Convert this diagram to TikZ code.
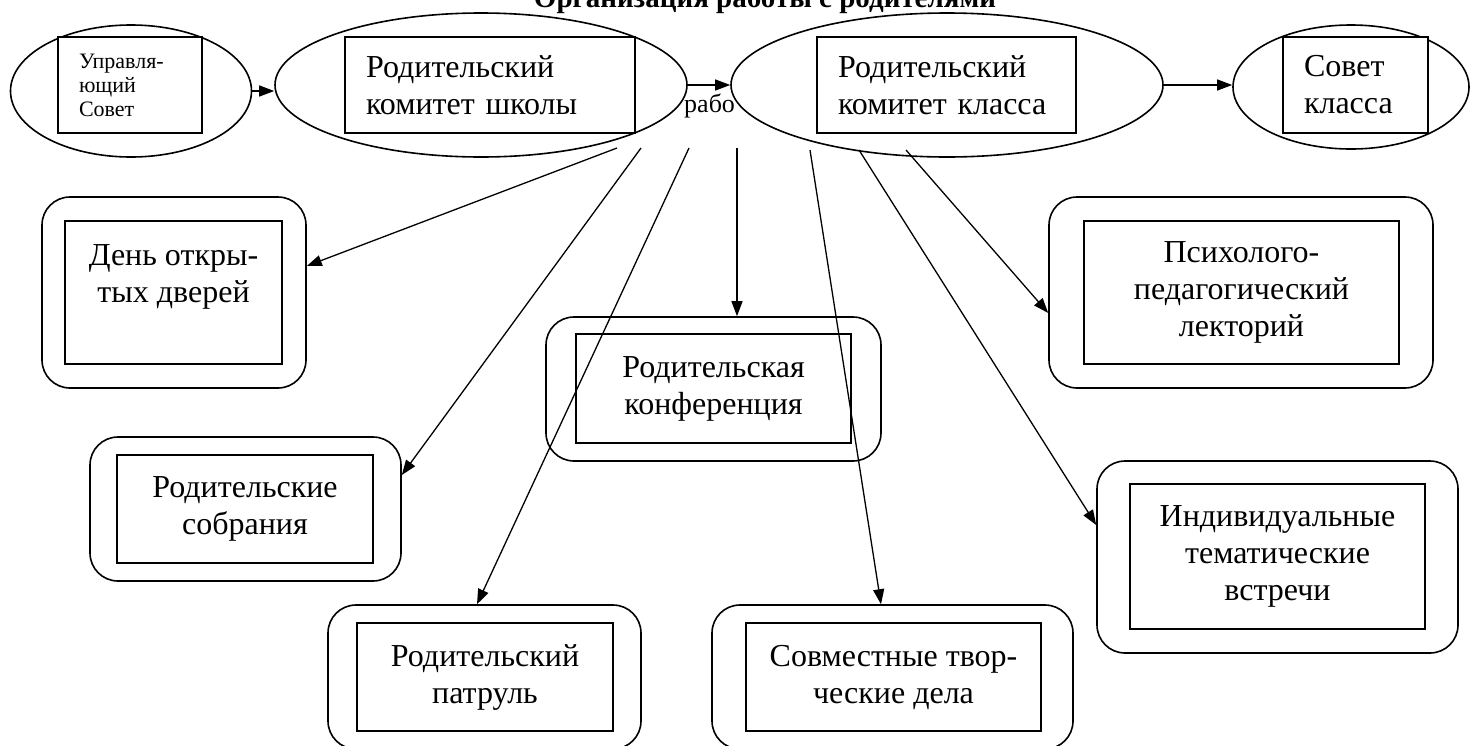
\documentclass[tikz,border=0pt]{standalone}
\usepackage{fontspec}
\setmainfont{Liberation Serif}
\usetikzlibrary{shapes.geometric,arrows.meta}
\tikzset{
  ell/.style={draw, ellipse, line width=1.6pt, fill=white, inner sep=0pt},
  topbox/.style={draw, rectangle, line width=1.6pt, fill=white, align=left, inner xsep=21pt, inner ysep=0pt, minimum height=96pt, font=\fontsize{32}{37}\selectfont},
  outerbox/.style={draw, rectangle, rounded corners=28pt, line width=1.6pt, inner sep=0pt},
  innerbox/.style={draw, rectangle, line width=1.6pt, align=center, inner sep=0pt, font=\fontsize{32}{37}\selectfont},
  conn/.style={line width=1.3pt, -{Triangle[length=15pt,width=11pt]}},
}
\begin{document}
\begin{tikzpicture}[x=1pt,y=-1pt]
\useasboundingbox (0,0) rectangle (1470,745);
% title
\node[anchor=base, font=\fontsize{29}{34}\selectfont\bfseries, inner sep=0pt] (title) at (765,7) {Организация работы с родителями};
% label under the second arrow
\node[anchor=west, inner sep=0pt, font=\fontsize{26}{30}\selectfont] (lab) at (684,106) {рабо};
% top ellipses
\node[ell, minimum width=241pt, minimum height=132pt] (E1) at (131,91) {};
\node[topbox, text width=102pt, font=\fontsize{22}{24}\selectfont] (T1) at (130,85) {Управля-\\ющий\\Совет};
\node[ell, minimum width=412pt, minimum height=144pt] (E2) at (481,85) {};
\node[topbox, text width=248pt] (T2) at (490,85) {Родительский\\комитет школы};
\node[ell, minimum width=432pt, minimum height=144pt] (E3) at (947,85) {};
\node[topbox, text width=217pt] (T3) at (946.5,85) {Родительский\\комитет класса};
\node[ell, minimum width=236pt, minimum height=124pt] (E4) at (1351,87) {};
\node[topbox, text width=103pt] (T4) at (1355.5,85) {Совет\\класса};
% top arrows
\draw[conn] (E1.east) -- (E1.east -| E2.west);
\draw[conn] (E2.east) -- (E3.west);
\draw[conn] (E3.east) -- (E3.east -| E4.west);
% lower boxes
\node[outerbox, minimum width=264pt, minimum height=191pt] (B1) at (174,292.5) {};
\node[innerbox, minimum width=217pt, minimum height=143pt] (I1) at (173.5,292.5) {День откры-\\тых дверей\\~};
\node[outerbox, minimum width=311pt, minimum height=144pt] (B2) at (245.5,509) {};
\node[innerbox, minimum width=256pt, minimum height=108pt] (I2) at (245,509) {Родительские\\собрания};
\node[outerbox, minimum width=335pt, minimum height=144pt] (B3) at (713.5,389) {};
\node[innerbox, minimum width=275pt, minimum height=109pt] (I3) at (713.5,388.5) {Родительская\\конференция};
\node[outerbox, minimum width=313pt, minimum height=144pt] (B4) at (484.5,677) {};
\node[innerbox, minimum width=256pt, minimum height=108pt] (I4) at (485,677) {Родительский\\патруль};
\node[outerbox, minimum width=361pt, minimum height=144pt] (B5) at (892.5,677) {};
\node[innerbox, minimum width=295pt, minimum height=108pt] (I5) at (893.5,677) {Совместные твор-\\ческие дела};
\node[outerbox, minimum width=384pt, minimum height=191pt] (B6) at (1241,292.5) {};
\node[innerbox, minimum width=315pt, minimum height=143pt] (I6) at (1241.5,292.5) {Психолого-\\педагогический\\лекторий};
\node[outerbox, minimum width=361pt, minimum height=192pt] (B7) at (1277.5,557) {};
\node[innerbox, minimum width=295pt, minimum height=145pt] (I7) at (1277.5,556.5) {Индивидуальные\\тематические\\встречи};
% start points of connectors
\coordinate (s1) at (617,148);
\coordinate (s2) at (641,148);
\coordinate (s3) at (689,148);
\coordinate (s4) at (737,148);
\coordinate (s5) at (810,150);
\coordinate (s6) at (859,150);
\coordinate (s7) at (906,150);
% connectors
\draw[conn] (s1) -- ([yshift=26.5pt]B1.east);
\draw[conn] (s2) -- ([yshift=34pt]B2.east);
\draw[conn] (s3) -- ([xshift=-7.5pt]B4.north);
\draw[conn] (s4) -- ([xshift=23.5pt]B3.north);
\draw[conn] (s5) -- ([xshift=-11.5pt]B5.north);
\draw[conn] (s6) -- ([yshift=32pt]B7.west);
\draw[conn] (s7) -- ([yshift=-20.5pt]B6.west);
\end{tikzpicture}
\end{document}
